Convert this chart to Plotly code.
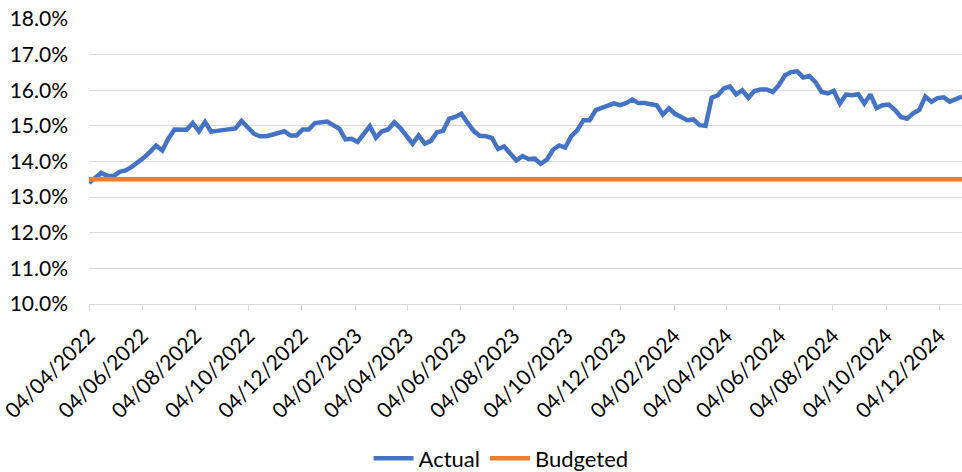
import pandas as pd
import plotly.graph_objects as go

# Weekly series, starting Monday 04/04/2022
start_date = "2022-04-04"
week_freq = "7D"

actual = [
    13.40, 13.55, 13.68, 13.60, 13.59, 13.71, 13.75, 13.85, 13.97, 14.11,
    14.27, 14.45, 14.31, 14.64, 14.90, 14.88, 14.89, 15.08, 14.85, 15.11,
    14.84, 14.86, 14.88, 14.91, 14.93, 15.14, 14.97, 14.78, 14.71, 14.71,
    14.75, 14.79, 14.85, 14.73, 14.73, 14.90, 14.90, 15.08, 15.11, 15.12,
    15.02, 14.92, 14.62, 14.64, 14.55, 14.76, 14.99, 14.67, 14.85, 14.90,
    15.10, 14.94, 14.74, 14.50, 14.73, 14.50, 14.58, 14.82, 14.86, 15.20,
    15.25, 15.34, 15.09, 14.86, 14.72, 14.71, 14.66, 14.35, 14.42, 14.22,
    14.03, 14.15, 14.07, 14.08, 13.94, 14.05, 14.33, 14.45, 14.39, 14.71,
    14.88, 15.16, 15.16, 15.44, 15.50, 15.58, 15.63, 15.58, 15.64, 15.74,
    15.64, 15.64, 15.62, 15.58, 15.32, 15.49, 15.34, 15.25, 15.16, 15.18,
    15.02, 15.00, 15.79, 15.86, 16.05, 16.11, 15.88, 16.00, 15.79, 15.98,
    16.02, 16.02, 15.95, 16.14, 16.42, 16.51, 16.53, 16.36, 16.40, 16.23,
    15.95, 15.91, 15.98, 15.63, 15.88, 15.86, 15.89, 15.63, 15.88, 15.50,
    15.58, 15.60, 15.45, 15.25, 15.20, 15.35, 15.45, 15.82, 15.68, 15.78,
    15.80, 15.68, 15.74, 15.82,
]

budget_rate = 13.5

dates = pd.date_range(start=start_date, periods=len(actual), freq=week_freq)
budgeted = [budget_rate] * len(dates)

FONT = "Lato, 'Open Sans', sans-serif"
BLUE = "#4472C4"
ORANGE = "#ED7D31"
GRID = "#D9D9D9"

fig = go.Figure()
fig.add_trace(go.Scatter(
    x=dates, y=actual, name="Actual", mode="lines",
    line=dict(color=BLUE, width=4.5),
))
fig.add_trace(go.Scatter(
    x=dates, y=budgeted, name="Budgeted", mode="lines",
    line=dict(color=ORANGE, width=4.5),
))

fig.update_layout(
    width=962, height=472,
    margin=dict(l=89, r=0, t=19, b=168, autoexpand=False),
    paper_bgcolor="white", plot_bgcolor="white",
    font=dict(family=FONT, size=21, color="#000000"),
    showlegend=True,
    legend=dict(
        orientation="h", x=0.472, xanchor="center", y=-0.542, yanchor="middle",
        font=dict(size=22), itemwidth=40, traceorder="normal",
    ),
)

fig.update_xaxes(
    type="date",
    range=[dates[0], dates[-1]],
    tick0=start_date, dtick="M2", tickformat="%d/%m/%Y",
    tickangle=-45, ticks="outside", ticklen=6, tickcolor=GRID, tickwidth=1.3,
    showgrid=False, showline=True, linecolor=GRID, linewidth=1.3,
    zeroline=False, tickfont=dict(size=21), ticklabelstandoff=4,
    automargin=False, ticklabeloverflow="allow",
)

fig.update_yaxes(
    range=[10, 18], dtick=1, tickformat=".1f", ticksuffix="%",
    showgrid=True, gridcolor=GRID, gridwidth=1.3,
    zeroline=False, showline=False, ticks="",
    ticklabelstandoff=20, tickfont=dict(size=21),
    automargin=False, ticklabeloverflow="allow",
)

fig.write_html("out.html")
